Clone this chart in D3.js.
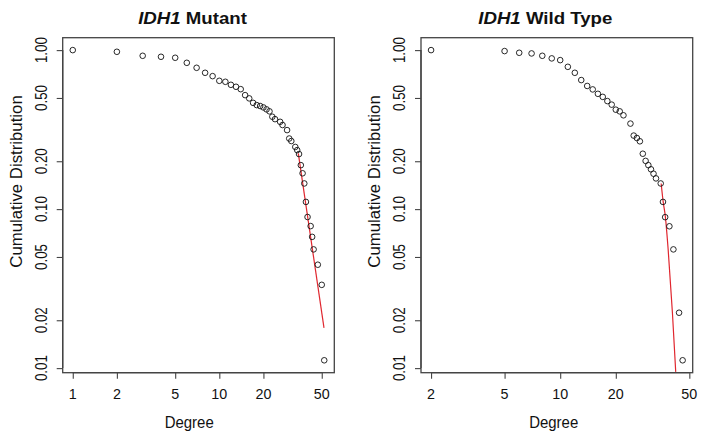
<!DOCTYPE html>
<html><head><meta charset="utf-8">
<script src="https://cdn.jsdelivr.net/npm/d3@7"></script>
<style>body{margin:0;background:#fff} svg{display:block} text{font-family:"Liberation Sans",Arial,Helvetica,sans-serif;fill:#111}</style>
</head><body><svg id="c" width="704" height="437"></svg>
<script>
// ---- data ----
const mutDegree = [1,2,3,4,5,6,7,8,9,10,11,12,13,14,15,16,17,18,19,20,21,22,23,24,26,27,29,30,31,33,34,35,36,37,38,39,40,42,43,44,47,50,52];
const mutCum    = [1.0,0.976,0.921,0.908,0.895,0.832,0.774,0.720,0.686,0.641,0.632,0.605,0.588,0.568,0.521,0.497,0.466,0.451,0.445,0.436,0.424,0.412,0.381,0.368,0.354,0.338,0.314,0.278,0.268,0.246,0.235,0.222,0.189,0.168,0.145,0.111,0.0892,0.0782,0.0669,0.0558,0.0447,0.0334,0.0112];
const wtDegree  = [2,5,6,7,8,9,10,11,12,13,14,15,16,17,18,19,20,21,22,24,25,26,27,28,29,30,31,32,33,35,36,37,39,41,44,46];
const wtCum     = [1.0,0.986,0.962,0.953,0.921,0.887,0.865,0.785,0.720,0.648,0.595,0.566,0.531,0.508,0.478,0.454,0.422,0.412,0.389,0.345,0.290,0.280,0.267,0.223,0.201,0.189,0.178,0.167,0.156,0.145,0.111,0.089,0.078,0.0558,0.0223,0.0112];
const mutFitDegree = [34.6,51.8];
const mutFitCum    = [0.224,0.0179];
const wtFitDegree  = [35.2,36.1,37.1,38.4,40.5,42.2];
const wtFitCum     = [0.145,0.111,0.0894,0.0558,0.0223,0.00947];
const yTicks      = [0.01,0.02,0.05,0.1,0.2,0.5,1];
const yTickLabels = ["0.01","0.02","0.05","0.10","0.20","0.50","1.00"];
const mutXTicks   = [1,2,5,10,20,50];
const wtXTicks    = [2,5,10,20,50];
const titleItalic = ["IDH1","IDH1"];
const titleRest   = [" Mutant"," Wild Type"];
const xLabel = "Degree";
const yLabel = "Cumulative Distribution";

// ---- layout ----
const svg = d3.select("#c");
const TOP = 37.7, BOTTOM = 372.7;
const panels = [
  {deg:mutDegree, cum:mutCum, fd:mutFitDegree, fc:mutFitCum, xt:mutXTicks, ti:titleItalic[0], tr:titleRest[0],
   left:62.7, right:334.3, titleX:192.5, xlabX:189.2, ylabX:21.5, ytickX:46.7},
  {deg:wtDegree, cum:wtCum, fd:wtFitDegree, fc:wtFitCum, xt:wtXTicks, ti:titleItalic[1], tr:titleRest[1],
   left:421, right:692.7, titleX:545.3, xlabX:553.7, ylabX:380, ytickX:405.3}
];
function padLog(ext){
  const a=Math.log10(ext[0]), b=Math.log10(ext[1]), p=(b-a)*0.04;
  return [Math.pow(10,a-p), Math.pow(10,b+p)];
}
function label(g, x, y, str, size, sx, rot, weight){
  return g.append("text")
    .attr("transform", `translate(${x},${y}) rotate(${rot}) scale(${sx},1)`)
    .attr("text-anchor","middle")
    .attr("font-size", size)
    .attr("font-weight", weight||"normal")
    .text(str);
}

panels.forEach((p,i)=>{
  const g = svg.append("g");
  const x = d3.scaleLog().domain(padLog(d3.extent(p.deg))).range([p.left,p.right]);
  const y = d3.scaleLog().domain(padLog(d3.extent(p.cum))).range([BOTTOM,TOP]);

  const clipId = "clip"+i;
  svg.append("clipPath").attr("id",clipId).append("rect")
    .attr("x",p.left).attr("y",TOP).attr("width",p.right-p.left).attr("height",BOTTOM-TOP);

  // box
  g.append("rect").attr("x",p.left).attr("y",TOP).attr("width",p.right-p.left).attr("height",BOTTOM-TOP)
    .attr("fill","none").attr("stroke","#444").attr("stroke-width",1.3);

  // x axis
  const xa = g.append("g").attr("transform",`translate(0,${BOTTOM})`)
    .call(d3.axisBottom(x).tickValues(p.xt).tickSize(6).tickSizeOuter(0).tickFormat(d3.format("d")));
  xa.select(".domain").attr("stroke","#444").attr("stroke-width",1.3)
    .attr("d",`M${x(p.xt[0])},0H${x(p.xt[p.xt.length-1])}`);
  xa.selectAll(".tick line").attr("stroke","#444").attr("stroke-width",1.1);
  xa.selectAll(".tick text").remove();
  p.xt.forEach(v=>label(g, x(v), 399.3, d3.format("d")(v), 15.4, 0.93, 0));

  // y axis
  const ya = g.append("g").attr("transform",`translate(${p.left},0)`)
    .call(d3.axisLeft(y).tickValues(yTicks).tickSize(6).tickSizeOuter(0));
  ya.select(".domain").attr("stroke","#444").attr("stroke-width",1.3)
    .attr("d",`M0,${y(yTicks[0])}V${y(yTicks[yTicks.length-1])}`);
  ya.selectAll(".tick line").attr("stroke","#444").attr("stroke-width",1.1);
  ya.selectAll(".tick text").remove();
  yTicks.forEach((v,k)=>label(g, p.ytickX, y(v), yTickLabels[k], 16.3, 0.82, -90));

  // fit line
  const fit = p.fd.map((d,k)=>[d,p.fc[k]]);
  g.append("path").datum(fit).attr("clip-path",`url(#${clipId})`)
    .attr("fill","none").attr("stroke","#e0262e").attr("stroke-width",1.2)
    .attr("d", d3.line().x(d=>x(d[0])).y(d=>y(d[1])).curve(d3.curveMonotoneX));

  // points
  g.selectAll("circle.pt").data(p.deg.map((d,k)=>[d,p.cum[k]])).enter().append("circle")
    .attr("cx",d=>x(d[0])).attr("cy",d=>y(d[1])).attr("r",2.8)
    .attr("fill","none").attr("stroke","#111").attr("stroke-width",0.9);

  // titles and labels
  const t = g.append("text")
    .attr("transform",`translate(${p.titleX},23.5) scale(1.13,1)`)
    .attr("text-anchor","middle").attr("font-size",16.5).attr("font-weight","bold");
  t.append("tspan").attr("font-style","italic").text(p.ti);
  t.append("tspan").text(p.tr);

  label(g, p.xlabX, 427.7, xLabel, 16.8, 0.89, 0);
  label(g, p.ylabX, 181.5, yLabel, 16.3, 1.03, -90);
});
</script></body></html>
